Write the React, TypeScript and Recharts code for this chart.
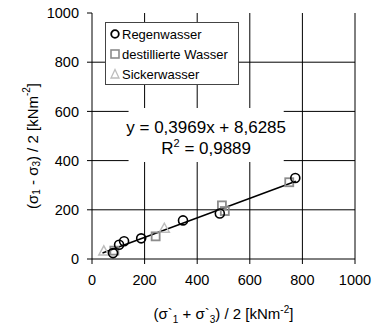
import React from 'react';
import {
  ScatterChart,
  Scatter,
  XAxis,
  YAxis,
  CartesianGrid,
  ReferenceLine,
  ReferenceArea,
  Legend,
  Label,
} from 'recharts';

// measured points, x = (s1 + s3) / 2, y = (s1 - s3) / 2
const regenX = [80, 103, 122, 187, 346, 486, 773];
const regenY = [24, 58, 72, 84, 157, 185, 329];
const destX = [85, 242, 494, 505, 750];
const destY = [34, 92, 218, 195, 312];
const sickerX = [45, 275];
const sickerY = [33, 125];

// linear fit over all samples
const slope = 0.3969;
const intercept = 8.6285;
const rSquared = 0.9889;
const fitRange = [40, 775];

const ticks = [0, 200, 400, 600, 800, 1000];

const seriesNames = ['Regenwasser', 'destillierte Wasser', 'Sickerwasser'];
const seriesColors = ['#000000', '#8c8c8c', '#bdbdbd'];

const toPoints = (xs: number[], ys: number[]) => xs.map((x, i) => ({ x, y: ys[i] }));

const regen = toPoints(regenX, regenY);
const dest = toPoints(destX, destY);
const sicker = toPoints(sickerX, sickerY);

const fmt = (v: number) => v.toFixed(4).replace('.', ',');

const FONT = '"Liberation Sans", Arial, sans-serif';

const Circle = (props: any) => (
  <circle cx={props.cx} cy={props.cy} r={4.5} fill="none" stroke={seriesColors[0]} strokeWidth={1.6} />
);
const Square = (props: any) => (
  <rect x={props.cx - 4} y={props.cy - 4} width={8} height={8} fill="none" stroke={seriesColors[1]} strokeWidth={1.8} />
);
const Triangle = (props: any) => (
  <path
    d={`M${props.cx},${props.cy - 5} L${props.cx + 5},${props.cy + 4} L${props.cx - 5},${props.cy + 4} Z`}
    fill="none"
    stroke={seriesColors[2]}
    strokeWidth={1.5}
  />
);

const LegendBox = () => (
  <div
    style={{
      width: 134,
      height: 63,
      border: '1px solid #444',
      background: '#fff',
      fontFamily: FONT,
      fontSize: 13,
      color: '#000',
      boxSizing: 'border-box',
      paddingTop: 1,
    }}
  >
    {seriesNames.map((name, i) => (
      <div key={name} style={{ display: 'flex', alignItems: 'center', height: 20 }}>
        <svg width={16} height={12} style={{ flex: 'none' }}>
          {i === 0 && <circle cx={9} cy={6} r={3.8} fill="none" stroke={seriesColors[0]} strokeWidth={1.8} />}
          {i === 1 && <rect x={5} y={2} width={8} height={8} fill="none" stroke={seriesColors[1]} strokeWidth={1.6} />}
          {i === 2 && <path d="M9,1.5 L13,10 L5,10 Z" fill="none" stroke={seriesColors[2]} strokeWidth={1.3} />}
        </svg>
        <span style={{ marginLeft: 0 }}>{name}</span>
      </div>
    ))}
  </div>
);

const YTitle = (props: any) => {
  const { viewBox } = props;
  const cx = viewBox.x + 32;
  const cy = viewBox.y + viewBox.height / 2 + 10;
  return (
    <text
      transform={`translate(${cx},${cy}) rotate(-90)`}
      textAnchor="middle"
      fontFamily={FONT}
      fontSize={15}
      fill="#000"
      dominantBaseline="central"
    >
      <tspan>(σ</tspan>
      <tspan fontSize={10} dy={4}>1</tspan>
      <tspan dy={-4}> - σ</tspan>
      <tspan fontSize={10} dy={4}>3</tspan>
      <tspan dy={-4}>) / 2 [kNm</tspan>
      <tspan fontSize={10} dy={-6}>-2</tspan>
      <tspan dy={6}>]</tspan>
    </text>
  );
};

const XTitle = (props: any) => {
  const { viewBox } = props;
  const cx = viewBox.x + viewBox.width / 2;
  const cy = viewBox.y + 60;
  return (
    <text x={cx} y={cy} textAnchor="middle" fontFamily={FONT} fontSize={15} fill="#000">
      <tspan>(σ`</tspan>
      <tspan fontSize={10} dy={4}>1</tspan>
      <tspan dy={-4}> + σ`</tspan>
      <tspan fontSize={10} dy={4}>3</tspan>
      <tspan dy={-4}>) / 2 [kNm</tspan>
      <tspan fontSize={10} dy={-6}>-2</tspan>
      <tspan dy={6}>]</tspan>
    </text>
  );
};

const Equation = (props: any) => {
  const { viewBox } = props;
  const cx = viewBox.x + viewBox.width / 2;
  return (
    <text x={cx} y={viewBox.y + 25} textAnchor="middle" fontFamily={FONT} fontSize={17} fill="#000">
      <tspan x={cx}>{`y = ${fmt(slope)}x + ${fmt(intercept)}`}</tspan>
      <tspan x={cx} dy={21}>R</tspan>
      <tspan fontSize={11} dy={-7}>2</tspan>
      <tspan dy={7}>{` = ${fmt(rSquared)}`}</tspan>
    </text>
  );
};

export default function App() {
  const tickStyle = { fontFamily: FONT, fontSize: 14.5, fill: '#000' };
  return (
    <div style={{ position: 'absolute', left: 0, top: 0, width: 373, height: 333, background: '#fff' }}>
      <ScatterChart width={373} height={333} margin={{ top: 13, right: 18, bottom: 14, left: 0 }}>
        <CartesianGrid
          stroke="#000"
          strokeWidth={1}
          horizontalValues={[200, 400, 600, 800]}
          verticalValues={[200, 400, 600, 800, 1000]}
        />
        <XAxis
          type="number"
          dataKey="x"
          domain={[0, 1000]}
          ticks={ticks}
          height={60}
          stroke="#000"
          tickSize={5}
          tickMargin={11}
          tick={tickStyle}
          interval={0}
        >
          <Label content={<XTitle />} />
        </XAxis>
        <YAxis
          type="number"
          dataKey="y"
          domain={[0, 1000]}
          ticks={ticks}
          width={92}
          stroke="#000"
          tickSize={5}
          tickMargin={8}
          tick={tickStyle}
          interval={0}
        >
          <Label content={<YTitle />} />
        </YAxis>
        <ReferenceArea
          x1={139}
          x2={729}
          y1={394}
          y2={614}
          fill="#fff"
          fillOpacity={1}
          stroke="none"
          label={<Equation />}
        />
        <ReferenceLine
          segment={[
            { x: fitRange[0], y: slope * fitRange[0] + intercept },
            { x: fitRange[1], y: slope * fitRange[1] + intercept },
          ]}
          stroke="#000"
          strokeWidth={1.5}
        />
        <Scatter name={seriesNames[2]} data={sicker} shape={<Triangle />} isAnimationActive={false} />
        <Scatter name={seriesNames[1]} data={dest} shape={<Square />} isAnimationActive={false} />
        <Scatter name={seriesNames[0]} data={regen} shape={<Circle />} isAnimationActive={false} />
        <Legend
          content={<LegendBox />}
          layout="vertical"
          align="center"
          verticalAlign="middle"
          wrapperStyle={{ position: 'absolute', left: 105, top: 22, width: 134, height: 63 }}
        />
      </ScatterChart>
    </div>
  );
}
